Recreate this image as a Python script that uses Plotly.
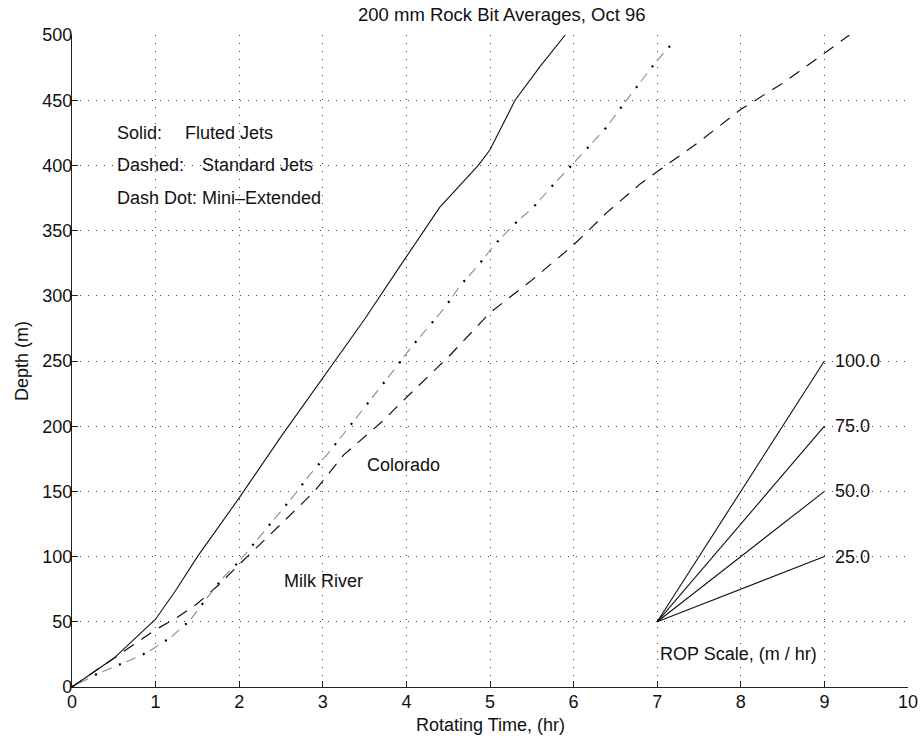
import plotly.graph_objects as go

# ---- data ----
fluted_t = [0, 0.5, 1.0, 1.25, 1.5, 2.0, 2.5, 3.0, 3.5, 4.0, 4.4, 4.86, 5.0, 5.3, 5.6, 5.9]
fluted_d = [0, 22, 52, 75, 100, 145, 192, 237, 282, 330, 368, 400, 412, 450, 476, 500]

standard_t = [0, 0.25, 0.5, 0.75, 1.0, 1.25, 1.5, 1.75, 2.0, 2.5, 2.9, 3.25, 3.7, 4.0, 4.5,
              5.0, 5.5, 6.0, 6.4, 6.8, 7.1, 7.5, 8.0, 8.5, 9.0, 9.3]
standard_d = [0, 11, 22, 33, 44, 53, 64, 78, 94, 125, 150, 178, 203, 222, 253,
              287, 312, 339, 364, 386, 400, 418, 443, 463, 486, 500]

mini_t = [0, 0.3, 0.6, 0.9, 1.18, 1.41, 1.61, 1.81, 2.01, 2.24, 2.45, 2.65, 2.84, 3.06, 3.26,
          3.46, 3.65, 3.85, 4.05, 4.26, 4.46, 4.64, 4.86, 5.06, 5.29, 5.52, 5.74, 5.96, 6.17,
          6.39, 6.58, 6.78, 6.98, 7.2]
mini_d = [0, 10, 18, 26.5, 38, 51, 68, 84, 97, 115, 131, 146.5, 162.5, 179, 195,
          211, 227, 243, 260, 275.5, 291, 307.5, 323.5, 339.5, 355, 368, 384, 399, 414,
          429, 445.5, 462, 479, 495]

rop_origin_t = 7
rop_origin_d = 50
rop_end_t = 9
rop_rates = [25.0, 50.0, 75.0, 100.0]

x_ticks = list(range(0, 11))
y_ticks = list(range(0, 501, 50))

FONT = "Liberation Sans, Arial, Helvetica, sans-serif"
FS = 18

fig = go.Figure()

fig.add_trace(go.Scatter(x=fluted_t, y=fluted_d, mode="lines",
                         line=dict(color="#111111", width=1.1), showlegend=False))
fig.add_trace(go.Scatter(x=standard_t, y=standard_d, mode="lines",
                         line=dict(color="#111111", width=1.2, dash="12px,9px"), showlegend=False))
# dash-dot: grey dashes + black dots along same path
fig.add_trace(go.Scatter(x=mini_t, y=mini_d, mode="lines",
                         line=dict(color="#8a8a8a", width=1.1, dash="0px,8px,10px,8px"), showlegend=False))
fig.add_trace(go.Scatter(x=mini_t, y=mini_d, mode="lines",
                         line=dict(color="#000000", width=2.2, dash="2px,24px"), showlegend=False))

# ROP scale fan
for r in rop_rates:
    end_d = rop_origin_d + r * (rop_end_t - rop_origin_t)
    fig.add_trace(go.Scatter(x=[rop_origin_t, rop_end_t], y=[rop_origin_d, end_d], mode="lines",
                             line=dict(color="#111111", width=1.1), showlegend=False))
    fig.add_annotation(x=rop_end_t + 0.1, y=end_d, text=f"{r:.1f}", showarrow=False,
                       xanchor="left", yanchor="middle", font=dict(size=FS, color="#111"))

ann = [
    (0.52, 425, "Solid:"), (1.33, 425, "Fluted Jets"),
    (0.52, 400, "Dashed:"), (1.535, 400, "Standard Jets"),
    (0.52, 375, "Dash Dot: Mini\u2013Extended"),
    (3.51, 170, "Colorado"),
    (2.51, 81, "Milk River"),
]
for x, y, t in ann:
    fig.add_annotation(x=x, y=y, text=t, showarrow=False, xanchor="left", yanchor="middle",
                       font=dict(size=FS, color="#111"))
fig.add_annotation(x=8.93, y=25, text="ROP Scale, (m / hr)", showarrow=False,
                   xanchor="right", yanchor="middle", font=dict(size=FS, color="#111"))

# titles
fig.add_annotation(xref="paper", yref="paper", x=0.514, y=1.0307,
                   text="200 mm Rock Bit Averages, Oct 96", showarrow=False,
                   xanchor="center", yanchor="middle", font=dict(size=18.5, color="#111"))
fig.add_annotation(xref="paper", yref="paper", x=0.5, y=-0.0583,
                   text="Rotating Time, (hr)", showarrow=False,
                   xanchor="center", yanchor="middle", font=dict(size=FS, color="#111"))
fig.add_annotation(xref="paper", yref="paper", x=-0.0598, y=0.5,
                   text="Depth (m)", showarrow=False, textangle=-90,
                   xanchor="center", yanchor="middle", font=dict(size=FS, color="#111"))

axis_common = dict(
    showline=True, linecolor="#222", linewidth=1.3, mirror=False,
    ticks="inside", ticklen=6, tickcolor="#222", tickwidth=1,
    showgrid=True, gridcolor="#444", gridwidth=1, griddash="1px,7px",
    zeroline=False, tickfont=dict(size=FS, color="#111"), automargin=False,
)

fig.update_layout(
    width=921, height=740,
    margin=dict(l=72, r=13, t=35, b=53),
    paper_bgcolor="white", plot_bgcolor="white",
    font=dict(family=FONT, size=FS, color="#111"),
    xaxis=dict(range=[0, 10], tickvals=x_ticks, ticklabelstandoff=-2, **axis_common),
    yaxis=dict(range=[0, 500], tickvals=y_ticks, ticklabelstandoff=-5, **axis_common),
    showlegend=False,
)

# remove the default 8px page margin so the figure sits at the window's top-left corner
fig.write_html("out.html", config={"displayModeBar": False},
               post_script="document.body.style.margin='0';document.body.style.overflow='hidden';")
